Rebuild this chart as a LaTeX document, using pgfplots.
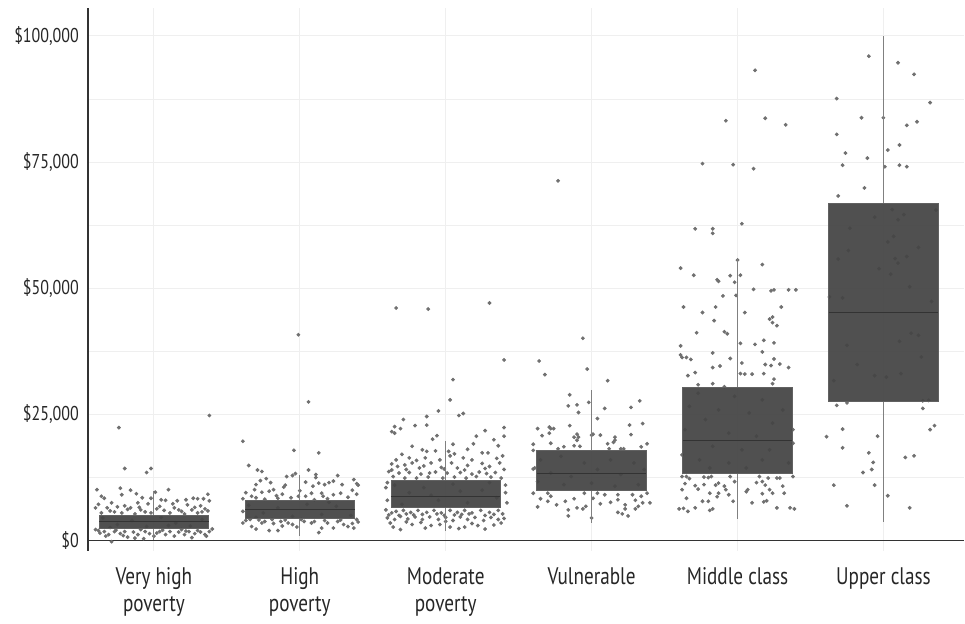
\documentclass[border=0pt]{standalone}
\usepackage{pgfplots}
\pgfplotsset{compat=1.18}
\usepgfplotslibrary{statistics}
\usepackage{pgfplotstable}
\usepackage{fontspec}
\setmainfont{PT Sans}[FakeStretch=0.8]
\definecolor{boxgray}{HTML}{454545}
\definecolor{dotgray}{HTML}{707070}
\definecolor{gridgray}{HTML}{EFEFEF}
\definecolor{axisgray}{HTML}{333333}
\definecolor{whiskgray}{HTML}{808080}

% income in thousands of dollars, x = category index + jitter
\pgfplotstableread{
x y
0.38 24.8
-0.24 22.4
-0.20 14.3
-0.05 13.5
-0.02 14.3
-0.39 10.1
-0.23 10.4
-0.16 10.0
0.10 10.1
0.01 9.6
-0.36 8.8
-0.34 8.4
-0.22 9.1
-0.12 9.3
-0.08 8.5
-0.02 8.4
0.05 8.1
0.08 8.0
0.16 7.9
0.22 8.1
0.27 8.4
0.30 8.3
0.34 8.3
0.37 9.2
0.38 7.9
-0.29 7.5
-0.20 6.9
-0.11 7.5
-0.04 7.3
0.13 7.3
0.23 7.1
0.32 6.9
-0.40 6.5
-0.32 6.5
-0.25 6.7
-0.16 6.5
-0.09 6.1
0.02 6.3
0.07 6.0
0.17 6.1
0.26 6.1
0.37 5.9
-0.36 5.5
-0.22 5.5
-0.02 5.5
0.11 5.5
0.30 5.5
-0.30 5.9
-0.18 6.2
-0.06 5.7
0.04 6.8
0.19 5.8
0.28 6.6
-0.38 7.2
0.35 6.3
-0.13 5.3
0.21 5.3
-0.27 5.7
-0.10 6.6
0.14 6.5
0.33 5.7
-0.35 4.5
-0.25 3.2
-0.15 4.0
-0.05 2.8
0.05 4.6
0.15 3.5
0.25 2.9
0.33 4.2
-0.30 2.6
0.10 3.0
-0.40 2.2
-0.37 1.5
-0.34 1.8
-0.31 1.2
-0.27 1.8
-0.23 1.4
-0.20 1.8
-0.18 0.7
-0.14 1.7
-0.11 1.2
-0.06 1.8
-0.03 1.4
0.00 0.9
0.04 1.8
0.08 1.2
0.11 1.8
0.14 0.9
0.17 1.7
0.21 1.2
0.24 1.8
0.28 1.4
0.32 1.7
0.35 1.2
0.38 1.8
-0.29 -0.2
-0.13 0.5
-0.38 2.0
-0.26 2.1
-0.09 2.2
0.06 2.1
0.19 2.2
0.30 2.0
0.40 2.3
-0.33 0.9
0.26 0.6
-0.07 0.4
-0.21 1.0
0.02 1.5
0.22 1.9
0.36 0.9
}\veryhigh

\pgfplotstableread{
x y
0.99 40.8
1.06 27.5
0.61 19.7
0.96 17.9
1.13 17.4
0.65 14.9
0.71 14.0
0.74 13.7
1.06 14.0
0.91 12.7
0.95 12.9
0.97 13.3
0.77 12.3
1.11 13.1
1.11 12.5
1.26 12.9
1.37 12.1
1.39 11.3
0.73 11.9
0.70 11.1
0.80 11.5
0.89 10.6
0.90 11.0
1.04 11.6
1.09 10.8
1.13 11.4
1.17 11.1
1.20 11.5
1.23 11.8
1.29 11.1
1.40 11.0
0.69 10.1
0.74 9.6
0.79 9.8
0.82 10.1
1.04 8.8
1.08 9.4
1.15 9.4
1.16 8.8
1.23 9.1
1.28 9.4
1.39 9.2
0.61 8.3
0.67 8.8
0.85 8.4
0.94 8.5
0.99 8.8
0.63 9.5
0.76 8.2
0.88 9.2
1.00 9.9
1.19 8.3
1.33 8.6
1.36 10.0
0.84 8.9
1.10 8.1
0.70 8.5
0.65 7.0
0.75 5.5
0.85 6.5
0.95 4.8
1.05 7.2
1.15 5.2
1.25 6.8
1.35 5.0
0.70 4.6
1.20 7.6
0.61 5.8
0.61 3.5
0.66 4.2
0.67 2.8
0.70 2.3
0.74 3.5
0.76 3.8
0.79 2.0
0.82 3.4
0.85 2.0
0.87 3.8
0.92 3.5
0.95 3.2
1.03 3.8
1.08 3.5
1.10 3.8
1.13 1.6
1.15 2.5
1.19 3.5
1.23 2.5
1.26 3.8
1.30 3.2
1.33 2.8
1.36 3.4
1.39 4.2
1.37 2.5
0.63 4.0
0.72 4.1
0.81 4.2
0.90 4.1
0.98 2.7
1.01 4.2
1.17 4.0
1.28 4.1
1.40 3.7
0.88 2.9
}\high

\pgfplotstableread{
x y
1.66 46.1
1.88 45.9
2.30 47.1
2.40 35.8
2.05 31.9
2.03 27.9
1.95 25.7
2.09 24.8
2.12 25.2
1.71 24.0
1.87 24.6
1.65 22.6
1.63 21.6
1.65 21.3
1.69 22.2
1.79 22.8
1.87 22.9
2.27 21.8
2.40 22.4
2.40 20.7
2.33 20.0
2.21 20.7
1.91 20.1
1.94 20.8
1.77 18.7
2.05 19.1
2.19 19.2
2.36 18.8
1.84 18.0
1.87 17.7
1.93 17.8
2.02 17.7
2.06 17.2
2.25 17.4
2.39 16.8
2.03 16.8
1.75 16.4
1.66 16.0
1.80 15.9
1.86 16.4
1.96 16.0
2.12 16.4
2.18 16.0
2.29 17.4
1.63 15.2
1.67 14.7
1.72 15.0
1.77 15.4
1.82 14.4
1.90 15.4
1.97 14.5
2.04 15.4
2.08 14.4
2.15 14.9
2.25 15.3
2.30 14.7
2.37 15.4
2.40 14.1
1.61 13.7
1.68 13.4
1.75 13.5
1.83 13.2
1.89 13.4
1.93 13.6
2.01 13.4
2.10 13.5
2.18 13.2
2.23 13.6
2.28 13.3
2.34 13.5
1.64 12.7
1.72 12.4
1.80 12.4
1.88 12.6
1.98 12.4
2.06 12.6
2.14 12.4
2.21 12.7
2.31 12.6
2.38 12.4
1.65 11.0
1.75 9.5
1.85 10.5
1.95 8.0
2.05 11.2
2.15 7.5
2.25 10.0
2.35 8.5
1.70 7.2
2.30 11.5
1.90 9.0
2.10 9.8
1.59 10.5
1.60 8.0
2.41 9.5
2.42 7.5
1.60 11.5
2.41 11.0
1.59 6.1
1.63 5.5
1.66 5.8
1.71 6.0
1.76 5.6
1.81 6.0
1.87 5.6
1.92 6.0
1.97 5.5
2.03 6.0
2.08 5.6
2.13 6.0
2.18 5.5
2.24 6.0
2.30 5.6
2.36 6.0
2.39 5.3
1.61 5.1
1.73 5.3
1.84 5.2
1.94 5.3
2.06 5.1
2.16 5.3
2.33 5.2
1.60 4.5
1.65 4.2
1.69 4.8
1.74 4.3
1.79 4.7
1.84 4.2
1.89 4.7
1.95 4.2
2.00 4.6
2.05 4.0
2.10 4.7
2.15 4.2
2.20 4.6
2.26 4.0
2.31 4.6
2.36 4.2
1.64 2.7
1.69 2.2
1.77 3.2
1.96 3.2
2.03 2.7
2.09 2.4
2.13 2.7
2.27 2.3
2.38 3.5
1.62 3.5
1.73 3.7
1.83 3.6
1.90 3.0
2.00 3.8
2.18 3.4
2.22 3.0
2.33 3.1
1.86 2.5
2.40 4.4
1.78 5.1
2.11 5.2
1.99 5.0
2.27 5.0
1.68 5.0
1.63 14.0
1.73 14.1
1.85 14.8
1.99 14.2
2.13 14.0
2.27 14.3
2.35 16.3
1.70 17.1
2.15 18.1
}\moderate

\pgfplotstableread{
x y
2.77 71.3
2.94 40.1
2.64 35.6
2.68 32.9
2.97 34.0
3.11 31.7
2.85 28.9
2.84 26.7
2.90 26.9
2.91 25.4
2.98 27.4
3.09 26.2
3.27 26.4
3.33 27.7
3.04 24.2
3.35 23.2
2.63 22.2
2.66 20.8
2.71 22.5
2.72 22.2
2.74 22.2
2.71 21.3
2.85 22.8
2.88 20.5
2.90 21.1
2.91 20.5
2.90 19.9
3.00 20.9
3.01 21.1
3.06 20.9
3.26 22.9
3.27 21.0
3.16 20.5
3.16 19.9
3.15 19.5
2.60 19.1
2.72 19.3
2.88 18.8
2.92 18.7
3.11 19.2
3.38 19.2
2.60 17.9
2.77 18.2
2.81 18.6
3.12 18.2
3.20 18.2
3.22 18.2
3.34 18.6
2.65 16.0
2.79 16.7
2.95 15.4
3.13 16.0
3.29 15.4
2.61 14.4
2.72 13.4
2.86 12.7
3.04 14.1
3.20 13.1
3.36 14.1
2.63 11.7
2.81 11.1
3.00 11.4
3.16 10.8
3.32 11.1
2.60 14.2
2.60 9.4
2.70 9.4
2.72 8.8
2.95 9.4
3.04 9.4
3.09 9.1
3.18 9.1
3.28 9.1
3.34 8.8
3.38 9.4
2.65 8.3
2.70 7.8
2.76 7.1
2.82 7.8
2.88 8.3
3.01 8.4
3.06 7.3
3.13 7.6
3.18 8.1
3.23 7.1
3.30 8.0
3.35 7.5
3.40 7.5
2.63 6.7
2.84 6.1
2.90 6.5
2.94 6.3
2.96 6.8
3.23 6.3
3.30 6.3
3.32 6.8
3.18 5.6
3.21 5.3
3.25 4.9
2.84 4.9
3.00 4.5
}\vulnerable

\pgfplotstableread{
x y
4.12 93.2
3.92 83.2
4.19 83.7
4.33 82.4
3.76 74.7
3.97 74.5
4.11 73.7
4.03 62.8
3.71 61.8
3.83 61.8
3.83 60.9
4.00 55.6
4.17 54.7
3.61 54.0
3.70 52.6
3.86 51.7
3.87 51.4
3.95 52.5
4.02 52.6
3.98 51.2
4.11 49.8
4.23 49.5
4.25 49.7
4.35 49.7
4.40 49.7
3.90 48.5
3.99 48.6
3.63 46.3
3.85 46.3
4.30 46.3
3.76 45.2
4.05 45.2
3.84 43.6
4.22 43.9
4.24 44.3
4.24 43.2
4.27 42.6
3.72 41.2
3.91 41.4
3.93 41.0
4.02 39.1
4.12 38.9
4.18 39.7
4.25 39.2
3.61 38.6
3.61 36.8
3.62 36.3
3.65 36.3
3.68 35.9
3.83 37.2
3.95 36.1
4.17 37.4
4.25 36.0
4.03 35.2
4.19 34.9
4.23 34.7
4.29 35.0
4.35 34.3
3.83 34.3
3.88 34.6
3.71 33.3
3.66 32.7
4.02 33.1
4.05 33.0
4.10 33.0
4.18 33.1
4.25 32.0
4.24 31.1
3.73 30.9
3.83 31.1
3.91 30.5
3.73 29.2
3.98 28.6
4.17 27.9
3.67 26.6
3.87 25.9
4.08 25.3
4.31 25.9
3.78 24.0
4.24 23.3
4.38 22.0
3.64 22.0
3.94 21.3
4.13 20.7
3.83 18.7
4.03 18.0
4.22 18.0
4.38 19.3
3.62 17.0
3.74 16.0
3.94 15.4
4.17 16.0
4.35 15.4
4.06 14.4
3.81 14.4
3.62 12.7
3.65 12.7
3.67 12.3
3.77 12.6
3.80 12.5
3.82 12.7
3.95 12.7
4.15 12.7
4.21 12.4
4.27 12.4
4.29 12.4
4.38 12.7
3.64 11.3
3.71 10.9
3.77 11.1
3.85 11.0
3.87 11.4
3.91 10.8
3.98 11.7
4.13 11.5
4.17 11.7
4.19 11.0
4.22 10.1
4.31 10.8
3.62 10.1
3.73 10.2
3.81 9.4
3.87 9.4
3.92 10.1
3.94 9.1
4.06 9.7
4.07 10.1
4.17 9.3
4.24 9.4
4.32 9.4
3.65 8.4
3.86 8.7
3.76 7.8
3.80 7.8
3.97 7.8
4.10 7.5
4.18 7.7
4.20 7.9
3.60 6.3
3.63 6.4
3.66 5.8
3.71 6.5
3.81 6.0
3.83 6.3
4.27 6.5
4.36 6.5
4.39 6.3
}\middle

\pgfplotstableread{
x y
4.90 96.0
5.10 94.7
5.21 92.4
4.68 87.6
5.32 86.8
4.85 83.8
5.00 83.8
5.16 82.3
5.23 83.0
4.68 80.5
5.11 78.4
5.03 77.4
4.74 76.8
4.89 75.8
4.72 74.4
5.01 74.1
5.11 74.4
5.16 74.1
4.87 69.9
4.69 68.3
5.06 65.6
5.36 65.5
5.14 64.6
4.94 64.1
5.10 63.6
4.77 61.9
5.07 60.3
5.03 59.2
4.76 57.5
5.24 58.1
4.69 55.8
5.08 55.9
5.16 56.3
5.10 55.0
4.97 53.9
5.05 52.8
5.18 50.3
4.63 48.3
4.72 48.1
5.33 47.4
5.19 41.1
5.24 40.7
5.11 39.5
4.75 38.7
5.26 36.4
4.82 34.9
4.66 31.7
4.94 32.7
5.02 32.4
5.12 33.1
4.68 26.8
4.75 27.3
5.27 27.7
5.31 27.8
5.27 26.2
5.35 22.8
5.32 22.0
4.72 22.1
4.61 20.6
4.96 20.7
4.72 18.4
4.90 17.4
5.15 16.5
5.21 16.8
4.93 15.5
4.92 14.1
4.86 13.5
4.66 11.0
4.94 11.0
5.03 8.9
4.75 6.9
5.18 6.5
}\upper

\begin{document}
\begin{tikzpicture}
\path (-44pt,-36.5pt) rectangle (438.5pt,275.5pt);
\begin{axis}[
  at={(0,0)}, anchor=south west,
  scale only axis,
  width=438.5pt, height=271.5pt,
  xmin=-0.452, xmax=5.555,
  ymin=-1.98, ymax=105.55,
  axis y line=left, axis x line=bottom,
  axis line style={-},
  x axis line style={draw=none},
  y axis line style={draw=axisgray, line width=0.6pt},
  xtick={0,1,2,3,4,5},
  xticklabels={{Very high\\poverty},{High\\poverty},{Moderate\\poverty},{Vulnerable},{Middle class},{Upper class}},
  ytick={0,25,50,75,100},
  yticklabels={{\$0},{\$25,000},{\$50,000},{\$75,000},{\$100,000}},
  minor ytick={12.5,37.5,62.5,87.5},
  major tick length=0pt, minor tick length=0pt,
  xmajorgrids, ymajorgrids, yminorgrids,
  grid style={draw=gridgray, line width=0.5pt},
  extra y ticks={0},
  extra y tick labels={},
  extra y tick style={grid=major, major grid style={draw=axisgray, line width=0.6pt}},
  xticklabel style={align=center, anchor=north, yshift=-5pt,
    font=\fontsize{12}{13.5}\selectfont, text=black!85},
  yticklabel style={font=\fontsize{10}{12}\selectfont, text=black!85, xshift=-1pt},
  boxplot/draw direction=y,
  boxplot/box extend=0.75,
  boxplot/whisker extend=0,
  boxplot/every box/.style={draw=boxgray!85!white, line width=0.4pt, fill=boxgray, fill opacity=0.94},
  boxplot/every median/.style={draw=black!80, line width=0.5pt},
  boxplot/every whisker/.style={draw=whiskgray, line width=0.5pt},
  clip=false,
  clip mode=individual,
  dots/.style={only marks, mark=*, mark size=0.75pt, color=dotgray,
    mark options={draw=none, fill=dotgray}},
]
\addplot[dots] table {\veryhigh};
\addplot[dots] table {\high};
\addplot[dots] table {\moderate};
\addplot[dots] table {\vulnerable};
\addplot[dots] table {\middle};
\addplot[dots] table {\upper};

\addplot[boxplot prepared={draw position=0, lower whisker=0.2, lower quartile=2.4,
  median=3.8, upper quartile=5.1, upper whisker=9.9}] coordinates {};
\addplot[boxplot prepared={draw position=1, lower whisker=1.0, lower quartile=4.4,
  median=6.1, upper quartile=7.9, upper whisker=13.0}] coordinates {};
\addplot[boxplot prepared={draw position=2, lower whisker=2.0, lower quartile=6.6,
  median=8.8, upper quartile=12.0, upper whisker=19.7}] coordinates {};
\addplot[boxplot prepared={draw position=3, lower whisker=3.5, lower quartile=10.0,
  median=13.3, upper quartile=17.9, upper whisker=29.9}] coordinates {};
\addplot[boxplot prepared={draw position=4, lower whisker=4.2, lower quartile=13.3,
  median=19.9, upper quartile=30.4, upper whisker=55.8}] coordinates {};
\addplot[boxplot prepared={draw position=5, lower whisker=3.7, lower quartile=27.6,
  median=45.3, upper quartile=66.9, upper whisker=100.0}] coordinates {};
\end{axis}
\end{tikzpicture}
\end{document}
